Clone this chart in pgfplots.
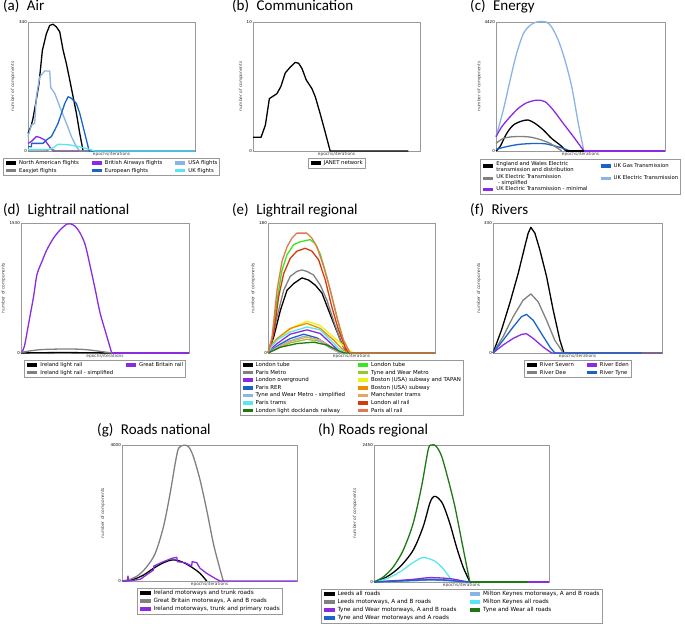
\documentclass[border=0pt]{standalone}
\usepackage{pgfplots}
\pgfplotsset{compat=1.18}
\usepackage{fontspec}
\setmainfont{DejaVu Sans}
\newfontfamily\titlefont{Carlito}

\definecolor{cblack}{RGB}{0,0,0}
\definecolor{cgrey}{RGB}{128,128,128}
\definecolor{cpurple}{RGB}{138,43,226}
\definecolor{cblue}{RGB}{25,100,200}
\definecolor{clblue}{RGB}{138,180,230}
\definecolor{ccyan}{RGB}{90,230,240}
\definecolor{cdgreen}{RGB}{30,120,20}
\definecolor{cbgreen}{RGB}{60,230,30}
\definecolor{cygreen}{RGB}{150,200,40}
\definecolor{cyellow}{RGB}{240,240,20}
\definecolor{corange}{RGB}{240,140,0}
\definecolor{ctan}{RGB}{230,165,100}
\definecolor{cred}{RGB}{210,60,10}
\definecolor{csalmon}{RGB}{225,120,80}

\newcommand\tickfont{\fontsize{4bp}{4.5bp}\selectfont}
\newcommand\labfont{\fontsize{4.3bp}{5bp}\selectfont}
\newcommand\legfont{\fontsize{5.3bp}{6bp}\selectfont}
\newcommand\legfontb{\fontsize{5.45bp}{6.2bp}\selectfont}
\newcommand\legfontc{\fontsize{5.7bp}{6.4bp}\selectfont}
\newcommand\ttl{\titlefont\fontsize{15bp}{17bp}\selectfont}

\pgfplotsset{
  panel/.style={
    scale only axis, xmin=0, xmax=100, ymin=0, clip=false,
    axis line style={draw=black!40, line width=0.6bp},
    xtick=\empty, major tick length=0pt, tick style={draw=none},
    yticklabel style={font=\tickfont, inner sep=1bp},
    xlabel={epochs/iterations}, ylabel={number of components},
    every axis x label/.style={at={(axis description cs:0.5,0)}, anchor=north, font=\labfont, inner sep=0.6bp, text=black!75},
    every axis y label/.style={at={(axis description cs:-#1,0.5)}, anchor=center, rotate=90, font=\labfont, inner sep=0pt, text=black!75},
    every axis plot/.append style={line width=1.3bp, line join=round},
    legend style={font=\legfont, draw=black!40, line width=0.5bp, at={(0.5,0)}, anchor=north, yshift=-7bp, inner sep=1bp, row sep=0pt, nodes={inner sep=1.2bp, anchor=west}},
    legend cell align=left,
    legend image code/.code={\draw[line width=3.6bp] (0bp,0bp) -- (10bp,0bp);},
    /tikz/every even column/.append style={column sep=10bp},
  },
  legrows/.style={legend style={nodes={text height=4bp, text depth=1.2bp}}},
  legrowsc/.style={legend style={font=\legfontc, nodes={text height=4.3bp, text depth=1.3bp}},
    legend image code/.code={\draw[line width=3.8bp] (0bp,0bp) -- (10.5bp,0bp);}},
  sm/.style={smooth, tension=0.5},
}

\begin{document}
\begin{tikzpicture}[x=1bp,y=1bp]
\useasboundingbox (0,0) rectangle (685,624);

\node[anchor=base west, inner sep=0pt] at (3,613.3) {\ttl (a)\hspace{0.5em}Air};
\node[anchor=base west, inner sep=0pt] at (232,613.3) {\ttl (b)\hspace{0.5em}Communication};
\node[anchor=base west, inner sep=0pt] at (470,613.3) {\ttl (c)\hspace{0.5em}Energy};
\node[anchor=base west, inner sep=0pt] at (3,409) {\ttl (d)\hspace{0.5em}Lightrail national};
\node[anchor=base west, inner sep=0pt] at (232,409) {\ttl (e)\hspace{0.5em}Lightrail regional};
\node[anchor=base west, inner sep=0pt] at (470,409) {\ttl (f)\hspace{0.5em}Rivers};
\node[anchor=base west, inner sep=0pt] at (97,189) {\ttl (g)\hspace{0.5em}Roads national};
\node[anchor=base west, inner sep=0pt] at (318,189) {\ttl (h) Roads regional};

% (a) Air
\begin{axis}[panel=0.09, legrows, at={(28bp,473bp)}, anchor=south west, width=167bp, height=129bp,
  ymax=340, ytick={0,340}, yticklabels={0,340}, legend columns=3]
\addplot[color=cblack] coordinates {(0,46)(2,68)(3,86)(4.6,125)(6.6,178)(8.6,265)(11,309)(13,331)(15,334)(17,327)(19,314)(21,266)(23,230)(25,187)(27,143)(29,99)(31,46)(33,0)(100,0)};
\addlegendentry{North American flights}
\addplot[color=cpurple] coordinates {(0,20)(2,25)(5,38)(7,36)(10,29)(13,11)(15,0)(100,0)};
\addlegendentry{British Airways flights}
\addplot[color=clblue] coordinates {(0,38)(2,68)(4,73)(5,143)(7,195)(10,211)(13,211)(13.6,167)(16,152)(19,117)(23,73)(26,38)(29,11)(31,0)(100,0)};
\addlegendentry{USA flights}
\addplot[color=cgrey] coordinates {(0,0)(11,0)(13,5)(15,3)(17,0)(100,0)};
\addlegendentry{Easyjet flights}
\addplot[color=cblue] coordinates {(0,11)(2,11)(2.2,20)(9,20)(11,29)(14,38)(16,55)(18,73)(20,99)(22,125)(24,143)(26,139)(29,125)(31,99)(33,64)(35,29)(36.6,0)(100,0)};
\addlegendentry{European flights}
\addplot[color=ccyan] coordinates {(0,3)(13,4)(16,11)(18,18)(25,16)(31,11)(37,4)(40,0)(100,0)};
\addlegendentry{UK flights}
\end{axis}

% (b) Communication
\begin{axis}[panel=0.072, legrows, at={(253bp,473bp)}, anchor=south west, width=167bp, height=129bp,
  ymax=10, ytick={0,10}, yticklabels={0,10}]
\addplot[color=cblack] coordinates {(0,1.06)(4.8,1.06)(7.4,2)(9.8,4.06)(14.3,4.44)(16.7,5.0)(19.3,6.05)(22.3,6.5)(25.3,6.87)(27.3,6.8)(29.3,6.4)(31.9,5.5)(35.3,4.83)(37.3,4.2)(40.2,2.9)(43.2,1.47)(46.2,0)(93,0)};
\addlegendentry{JANET network}
\end{axis}

% (c) Energy
\begin{axis}[panel=0.10, at={(496bp,473bp)}, anchor=south west, width=169bp, height=129bp,
  ymax=4420, ytick={0,4420}, yticklabels={0,4420}, legend columns=2,
  legend style={row sep=1.5bp, yshift=-1bp}]
\addplot[color=cblack, sm] coordinates {(0,0)(2.4,150)(6.3,600)(10.3,890)(15.2,1025)(19.1,1060)(23.1,945)(28,720)(32.9,430)(37.9,205)(41.4,0)};
\addlegendentry{\begin{tabular}{@{}l@{}}England and Wales Electric\\ transmission and distribution\end{tabular}}
\addplot[color=cblue, sm] coordinates {(0,57)(6.3,150)(14.2,230)(24,260)(29.9,240)(34.9,170)(39.8,90)(43.8,0)};
\addlegendentry{UK Gas Transmission}
\addplot[color=cgrey, sm] coordinates {(0,260)(4.3,430)(10.3,490)(18.1,490)(22,455)(27,375)(32,260)(35.9,115)(38.9,0)};
\addlegendentry{\begin{tabular}{@{}l@{}}UK Electric Transmission\\ \ - simplified\end{tabular}}
\addplot[color=clblue, sm] coordinates {(0,490)(4.3,1400)(8.3,2420)(12.2,3340)(16.2,4020)(20.1,4300)(24,4420)(29.6,4420)(32.9,4250)(36.9,3790)(40.8,3110)(44.8,2200)(48.7,945)(52,0)};
\addlegendentry{UK Electric Transmission}
\addplot[color=cpurple, sm] coordinates {(0,490)(3.4,830)(8.3,1170)(13.2,1460)(18.1,1650)(24,1740)(29,1690)(33.9,1400)(39.8,945)(45.8,490)(52,0)};
\addlegendentry{UK Electric Transmission - minimal}
\addplot[color=cblack, forget plot] coordinates {(41.4,0)(100,0)};
\addplot[color=clblue, forget plot] coordinates {(52,0)(100,0)};
\addplot[color=cpurple, forget plot] coordinates {(52,0)(100,0)};
\end{axis}

% (d) Lightrail national
\begin{axis}[panel=0.105, legrows, at={(21bp,271bp)}, anchor=south west, width=168bp, height=130bp,
  ymax=1530, ytick={0,1530}, yticklabels={0,1530}, legend columns=2]
\addplot[color=cblack, sm] coordinates {(0,0)(10,3)(25,5)(40,3)(54,0)};
\addlegendentry{Ireland light rail}
\addplot[color=cpurple, sm] coordinates {(0,0)(2,78)(4.6,353)(7.5,667)(9.5,922)(12.5,1078)(15.4,1215)(19.4,1353)(23.4,1451)(27.3,1517)(29.3,1521)(32.3,1490)(35.2,1411)(38.2,1274)(41.2,1019)(44.2,745)(47.1,470)(51.1,196)(54,0)};
\addlegendentry{Great Britain rail}
\addplot[color=cgrey, sm] coordinates {(0,8)(11.5,39)(27.3,47)(39,39)(54,0)};
\addlegendentry{Ireland light rail - simplified}
\addplot[color=cpurple, forget plot] coordinates {(54,0)(100,0)};
\end{axis}

% (e) Lightrail regional
\begin{axis}[panel=0.088, legrows, at={(268bp,271bp)}, anchor=south west, width=167bp, height=130bp,
  ymax=180, ytick={0,180}, yticklabels={0,180}, legend columns=2, legend style={font=\legfontb}]
\addplot[color=cblack] coordinates {(0,0)(3.4,22)(7.4,59)(11.4,87)(15.3,96)(20.3,104)(24.3,101)(28.3,94)(32.3,83)(36.3,59)(40.2,36)(44.2,13)(47.2,0)(100,0)};
\addlegendentry{London tube}
\addplot[color=cbgreen] coordinates {(0,0)(2.4,18)(5.4,73)(8.4,115)(11.4,136)(15.3,150)(19.3,154)(25.3,157)(28.3,151)(31.3,137)(35.3,105)(39.2,69)(43.2,32)(46.2,8)(49.2,0)(100,0)};
\addlegendentry{London tube}
\addplot[color=cgrey] coordinates {(0,0)(2.4,18)(5.4,50)(9.4,87)(13.3,106)(17.3,113)(20.3,115)(23.3,113)(27.3,108)(31.3,94)(35.3,73)(39.2,45)(43.2,18)(46.8,0)(100,0)};
\addlegendentry{Paris Metro}
\addplot[color=cygreen] coordinates {(0,0)(6.4,7)(13.3,14)(23.3,19)(31.3,16)(38,6)(44,0)(100,0)};
\addlegendentry{Tyne and Wear Metro}
\addplot[color=cpurple] coordinates {(0,0)(2.5,7)(5.4,13)(13.3,26)(23.3,32)(31.3,27)(37.3,14)(43.2,1)(45.2,0)(100,0)};
\addlegendentry{London overground}
\addplot[color=cyellow] coordinates {(0,0)(3,12)(7.4,22)(15.3,36)(23.3,44)(31.3,38)(39.2,22)(47.2,6)(51.2,0)(100,0)};
\addlegendentry{Boston (USA) subway and TAPAN}
\addplot[color=cblue] coordinates {(0,0)(6.4,11)(13.3,20)(21.3,26)(29.3,21)(37.3,9)(43.2,0)(100,0)};
\addlegendentry{Paris RER}
\addplot[color=corange] coordinates {(0,0)(2.5,12)(5.4,20)(13.3,34)(23.3,41)(31.3,34)(39.2,18)(45,4)(48.5,0)(100,0)};
\addlegendentry{Boston (USA) subway}
\addplot[color=clblue] coordinates {(0,0)(6.4,9)(13.3,17)(21.3,23)(29.3,19)(37.3,7)(43,0)(100,0)};
\addlegendentry{Tyne and Wear Metro - simplified}
\addplot[color=ctan] coordinates {(0,0)(6.4,8)(13.3,16)(23.3,22)(31.3,18)(38,7)(44,0)(100,0)};
\addlegendentry{Manchester trams}
\addplot[color=ccyan] coordinates {(0,0)(2.5,10)(5.4,18)(13.3,29)(23.3,36)(31.3,32)(37.3,18)(43.2,4)(46.2,0)(100,0)};
\addlegendentry{Paris trams}
\addplot[color=cred] coordinates {(0,0)(3.4,27)(6.4,78)(9.4,110)(13.3,131)(17.3,141)(22.3,145)(26.3,141)(30.3,129)(34.3,101)(38.2,64)(42.2,32)(46.2,8)(48.2,0)(100,0)};
\addlegendentry{London all rail}
\addplot[color=cdgreen] coordinates {(0,0)(7.4,8)(17.3,13)(27.3,15)(35.3,11)(43.2,2)(46.2,0)(100,0)};
\addlegendentry{London light docklands railway}
\addplot[color=csalmon] coordinates {(0,0)(2.4,22)(5.4,87)(8.4,127)(11.4,147)(14.3,159)(17.3,166)(23.3,166)(26.3,159)(29.3,147)(33.3,120)(37.3,87)(41.2,50)(45.2,18)(49.2,0)(100,0)};
\addlegendentry{Paris all rail}
\end{axis}

% (f) Rivers
\begin{axis}[panel=0.083, legrows, at={(493bp,271bp)}, anchor=south west, width=169bp, height=130bp,
  ymax=330, ytick={0,330}, yticklabels={0,330}, legend columns=2]
\addplot[color=cblack] coordinates {(0,0)(5,58)(9.9,126)(14.9,202)(18.8,270)(20.8,304)(22.4,319)(24.8,304)(27.7,262)(31.7,194)(35.6,109)(39.6,32)(42,0)(100,0)};
\addlegendentry{River Severn}
\addplot[color=cpurple] coordinates {(0,0)(5.9,20)(11.9,37)(16.8,47)(19.8,49)(23.8,37)(29.7,15)(34.7,0)(100,0)};
\addlegendentry{River Eden}
\addplot[color=cgrey] coordinates {(0,0)(5.9,41)(11.9,92)(17.8,134)(22.4,150)(26.7,130)(31.7,83)(36.6,32)(41.6,0)(100,0)};
\addlegendentry{River Dee}
\addplot[color=cblue] coordinates {(0,0)(5.9,32)(11.9,66)(16.8,92)(19.8,98)(23.8,83)(28.7,49)(33.7,15)(36.6,0)(88,0)};
\addlegendentry{River Tyne}
\end{axis}

% (g) Roads national
\begin{axis}[panel=0.109, legrowsc, at={(122bp,43bp)}, anchor=south west, width=175bp, height=136bp,
  ymax=4000, ytick={0,4000}, yticklabels={0,4000}]
\addplot[color=cblack, sm] coordinates {(0,0)(6.6,49)(12.3,176)(18,373)(23.7,539)(28.5,618)(32.3,598)(36,520)(40.8,373)(44.6,225)(48.4,0)};
\addlegendentry{Ireland motorways and trunk roads}
\addplot[color=cgrey, sm] coordinates {(0,0)(4.7,49)(9.5,176)(14.2,422)(19,814)(23.7,1598)(27.5,2578)(30.4,3460)(32.3,3902)(35.1,3990)(38,3951)(40.8,3657)(44.6,2971)(48.4,2088)(52.2,1108)(55.6,421)(57.9,0)};
\addlegendentry{Great Britain motorways, A and B roads}
\addplot[color=cpurple] coordinates {(0,0)(3.2,0)(3.4,147)(3.8,0)(10.4,49)(18,324)(18.2,441)(23.7,569)(28.5,667)(31.3,696)(31.6,569)(36,539)(39.8,441)(40.1,569)(42.7,539)(44.6,373)(48.4,225)(53.1,78)(56,0)(100,0)};
\addlegendentry{Ireland motorways, trunk and primary roads}
\end{axis}

% (h) Roads regional
\begin{axis}[panel=0.109, legrowsc, at={(374bp,42bp)}, anchor=south west, width=175bp, height=137bp,
  ymax=2450, ytick={0,2450}, yticklabels={0,2450}, legend columns=2]
\addplot[color=cblack, sm] coordinates {(0,0)(7.2,90)(14.8,270)(22.4,570)(28.1,991)(31.9,1411)(34.2,1531)(36.7,1501)(39.5,1381)(43.3,1051)(47.1,631)(50.9,270)(54.8,0)};
\addlegendentry{Leeds all roads}
\addplot[color=clblue, sm] coordinates {(0,0)(20,20)(32,30)(42,22)(50,5)(54,0)};
\addlegendentry{Milton Keynes motorways, A and B roads}
\addplot[color=cgrey, sm] coordinates {(0,0)(20,30)(32,50)(42,35)(50,8)(54,0)};
\addlegendentry{Leeds motorways, A and B roads}
\addplot[color=ccyan, sm] coordinates {(0,0)(7.2,60)(14.8,180)(21.5,330)(27.2,432)(31,420)(34.8,372)(38.6,270)(42.4,120)(45.2,0)};
\addlegendentry{Milton Keynes all roads}
\addplot[color=cpurple, sm] coordinates {(0,0)(20.5,42)(31.9,78)(43.3,60)(50.9,18)(54.8,0)};
\addlegendentry{Tyne and Wear motorways, A and B roads}
\addplot[color=cdgreen, sm] coordinates {(0,0)(5.3,90)(11,270)(16.7,570)(22.4,1051)(27.2,1711)(31,2372)(32.9,2450)(35.4,2432)(38.6,2252)(42.4,1832)(46.2,1351)(50,751)(53.8,150)(54.8,0)};
\addlegendentry{Tyne and Wear all roads}
\addplot[color=cblue, sm] coordinates {(0,0)(20,25)(32,40)(42,30)(50,8)(54,0)};
\addlegendentry{Tyne and Wear motorways and A roads}
\addplot[color=cdgreen, forget plot] coordinates {(54.8,0)(100,0)};
\addplot[color=cpurple, forget plot] coordinates {(88,0)(100,0)};
\end{axis}
\end{tikzpicture}
\end{document}
